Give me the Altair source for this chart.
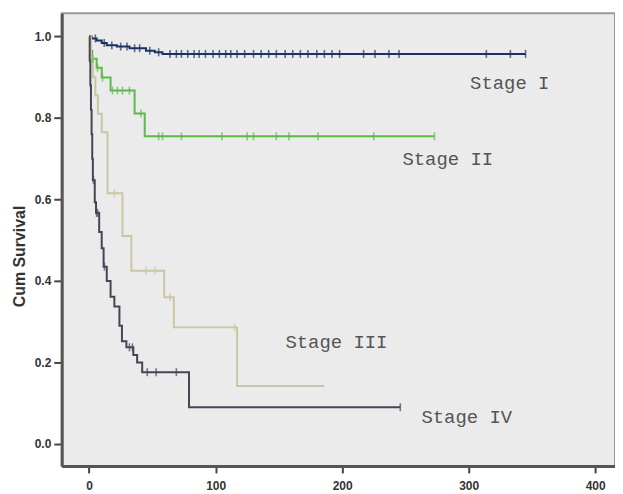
import altair as alt
import pandas as pd

# ---- data ----
stages = ["Stage I", "Stage II", "Stage III", "Stage IV"]
colors = ["#1d3263", "#5fb84a", "#cbc6a2", "#4a4354"]

s1_time = [0, 2, 6, 10, 14, 22, 32, 45, 52, 58]
s1_surv = [1.0, 0.995, 0.99, 0.984, 0.978, 0.975, 0.971, 0.965, 0.961, 0.957]
s1_end = 345
s1_cens = [5, 12, 18, 25, 30, 36, 40, 48, 55, 64, 69, 73, 78, 83, 87, 92, 98, 103,
           108, 112, 117, 123, 130, 136, 142, 148, 155, 161, 167, 173, 180, 186,
           192, 198, 217, 226, 237, 245, 314, 333, 345]

s2_time = [0, 1, 2.5, 6, 10, 17, 36, 44]
s2_surv = [1.0, 0.965, 0.945, 0.923, 0.899, 0.867, 0.811, 0.755]
s2_end = 273
s2_cens = [2.8, 6.7, 10.6, 18.5, 22.4, 26.4, 31.9, 41, 55, 58, 73, 105, 125, 130,
           148, 158, 181, 225, 273]

s3_time = [0, 1.5, 3, 5, 7, 10, 14.6, 26.4, 33.4, 59.4, 67, 117]
s3_surv = [1.0, 0.95, 0.90, 0.855, 0.81, 0.765, 0.615, 0.51, 0.425, 0.36, 0.286, 0.142]
s3_end = 186
s3_cens = [20, 45, 52, 64, 115]

s4_time = [0, 0.5, 1, 1.5, 2, 2.5, 3, 4.5, 5.5, 8, 10, 11.5, 14, 17, 20, 24, 26,
           29.5, 35, 38, 42, 79]
s4_surv = [1.0, 0.94, 0.88, 0.82, 0.76, 0.70, 0.647, 0.593, 0.567, 0.52, 0.48,
           0.435, 0.40, 0.361, 0.337, 0.29, 0.252, 0.237, 0.218, 0.2, 0.176, 0.09]
s4_end = 246
s4_cens = [3.5, 6.7, 5.9, 12.2, 31.9, 34.3, 46, 53, 69, 246]

label_text = ["Stage I", "Stage II", "Stage III", "Stage IV"]
label_x = [332.5, 283.5, 195.5, 298.5]
label_y = [0.886, 0.70, 0.249, 0.066]

x_ticks = [0, 100, 200, 300, 400]
y_ticks = [0.0, 0.2, 0.4, 0.6, 0.8, 1.0]

# ---- build tables ----
series = [
    (stages[0], s1_time, s1_surv, s1_end, s1_cens),
    (stages[1], s2_time, s2_surv, s2_end, s2_cens),
    (stages[2], s3_time, s3_surv, s3_end, s3_cens),
    (stages[3], s4_time, s4_surv, s4_end, s4_cens),
]


def surv_at(times, survs, t):
    v = survs[0]
    for tt, ss in zip(times, survs):
        if tt <= t:
            v = ss
    return v


line_rows, cens_rows = [], []
for name, t, s, end, cens in series:
    for i, (tt, ss) in enumerate(zip(t + [end], s + [s[-1]])):
        line_rows.append({"stage": name, "time": tt, "surv": ss, "ord": i})
    for c in cens:
        cens_rows.append({"stage": name, "time": c, "surv": surv_at(t, s, c)})

lines_df = pd.DataFrame(line_rows)
cens_df = pd.DataFrame(cens_rows)
labels_df = pd.DataFrame({"text": label_text, "time": label_x, "surv": label_y})

xscale = alt.Scale(domain=[-21.6, 415.7], nice=False, zero=False)
yscale = alt.Scale(domain=[-0.054, 1.057], nice=False, zero=False)
cscale = alt.Scale(domain=stages, range=colors)

x_enc = alt.X("time:Q", scale=xscale,
              axis=alt.Axis(values=x_ticks, title=None, format="d"))
y_enc = alt.Y("surv:Q", scale=yscale,
              axis=alt.Axis(values=y_ticks, format=".1f", title="Cum Survival",
                            titleX=-42, titleY=244, titleAngle=270,
                            titleAlign="center", titleBaseline="middle"))

lines = alt.Chart(lines_df).mark_line(interpolate="step-after", strokeWidth=2).encode(
    x=x_enc, y=y_enc,
    color=alt.Color("stage:N", scale=cscale, legend=None),
    order="ord:Q",
    detail="stage:N",
)

cens = alt.Chart(cens_df).mark_point(
    shape="M0,-1L0,1", size=64, strokeWidth=1.6, filled=False
).encode(
    x="time:Q", y="surv:Q",
    color=alt.Color("stage:N", scale=cscale, legend=None),
)

labels = alt.Chart(labels_df).mark_text(
    font="Liberation Mono", fontSize=19, color="#555555",
    align="center", baseline="middle"
).encode(x="time:Q", y="surv:Q", text="text:N")

chart = alt.layer(lines, cens, labels).properties(
    width=556, height=455,
    autosize=alt.AutoSizeParams(type="none"),
    padding={"left": 54, "top": 4, "right": 0, "bottom": 26},
    background="white",
).configure_view(
    fill="#ebebeb", stroke="#9a9a9a", strokeWidth=2
).configure_axis(
    domainColor="#555555", domainWidth=3, tickColor="#444444", tickWidth=2,
    labelFont="Liberation Sans", labelFontWeight="bold", labelColor="#333333",
    titleFont="Liberation Sans", titleFontWeight="bold", titleColor="#333333",
    grid=False,
).configure_axisX(
    tickSize=7, labelFontSize=12, labelPadding=8,
).configure_axisY(
    tickSize=8, labelFontSize=12, labelPadding=3, titleFontSize=16,
)

chart.save("out.html", embed_options={"renderer": "svg", "actions": False})
